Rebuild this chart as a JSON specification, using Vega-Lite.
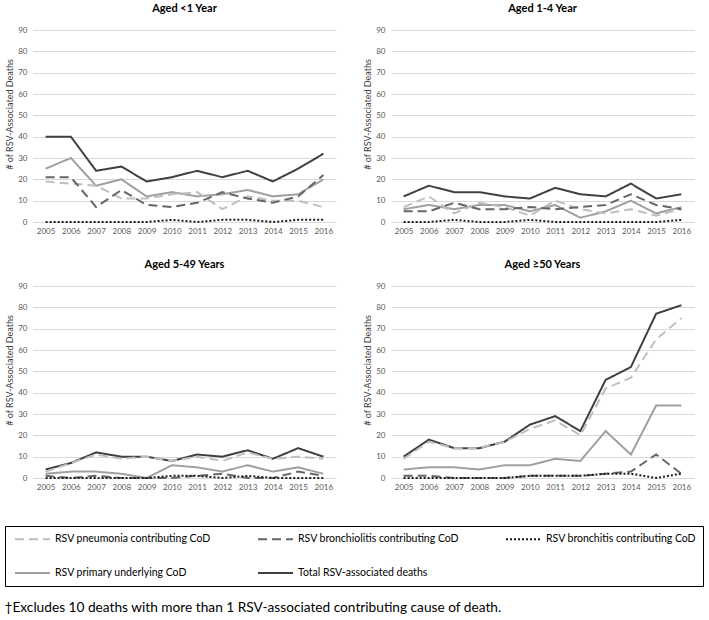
{
  "$schema": "https://vega.github.io/schema/vega-lite/v6.json",
  "padding": {"left": 4, "top": 3, "right": 3, "bottom": 3},
  "background": "white",
  "config": {
    "font": "Lato",
    "view": {"stroke": null},
    "axis": {"labelFont": "Lato", "titleFont": "Lato"},
    "legend": {"labelFont": "Lato"}
  },
  "title": {"text": "†Excludes 10 deaths with more than 1 RSV-associated contributing cause of death.", "orient": "bottom", "anchor": "start", "fontSize": 13.7, "fontWeight": "normal", "font": "Lato", "color": "#000", "offset": 14},
  "data": {"values": [
    {"age":"Aged <1 Year","year":2005,"series":"Total RSV-associated deaths","value":40},
    {"age":"Aged <1 Year","year":2006,"series":"Total RSV-associated deaths","value":40},
    {"age":"Aged <1 Year","year":2007,"series":"Total RSV-associated deaths","value":24},
    {"age":"Aged <1 Year","year":2008,"series":"Total RSV-associated deaths","value":26},
    {"age":"Aged <1 Year","year":2009,"series":"Total RSV-associated deaths","value":19},
    {"age":"Aged <1 Year","year":2010,"series":"Total RSV-associated deaths","value":21},
    {"age":"Aged <1 Year","year":2011,"series":"Total RSV-associated deaths","value":24},
    {"age":"Aged <1 Year","year":2012,"series":"Total RSV-associated deaths","value":21},
    {"age":"Aged <1 Year","year":2013,"series":"Total RSV-associated deaths","value":24},
    {"age":"Aged <1 Year","year":2014,"series":"Total RSV-associated deaths","value":19},
    {"age":"Aged <1 Year","year":2015,"series":"Total RSV-associated deaths","value":25},
    {"age":"Aged <1 Year","year":2016,"series":"Total RSV-associated deaths","value":32},
    {"age":"Aged <1 Year","year":2005,"series":"RSV primary underlying CoD","value":25},
    {"age":"Aged <1 Year","year":2006,"series":"RSV primary underlying CoD","value":30},
    {"age":"Aged <1 Year","year":2007,"series":"RSV primary underlying CoD","value":17},
    {"age":"Aged <1 Year","year":2008,"series":"RSV primary underlying CoD","value":20},
    {"age":"Aged <1 Year","year":2009,"series":"RSV primary underlying CoD","value":12},
    {"age":"Aged <1 Year","year":2010,"series":"RSV primary underlying CoD","value":14},
    {"age":"Aged <1 Year","year":2011,"series":"RSV primary underlying CoD","value":12},
    {"age":"Aged <1 Year","year":2012,"series":"RSV primary underlying CoD","value":13},
    {"age":"Aged <1 Year","year":2013,"series":"RSV primary underlying CoD","value":15},
    {"age":"Aged <1 Year","year":2014,"series":"RSV primary underlying CoD","value":12},
    {"age":"Aged <1 Year","year":2015,"series":"RSV primary underlying CoD","value":13},
    {"age":"Aged <1 Year","year":2016,"series":"RSV primary underlying CoD","value":20},
    {"age":"Aged <1 Year","year":2005,"series":"RSV pneumonia contributing CoD","value":19},
    {"age":"Aged <1 Year","year":2006,"series":"RSV pneumonia contributing CoD","value":18},
    {"age":"Aged <1 Year","year":2007,"series":"RSV pneumonia contributing CoD","value":17},
    {"age":"Aged <1 Year","year":2008,"series":"RSV pneumonia contributing CoD","value":11},
    {"age":"Aged <1 Year","year":2009,"series":"RSV pneumonia contributing CoD","value":11},
    {"age":"Aged <1 Year","year":2010,"series":"RSV pneumonia contributing CoD","value":13},
    {"age":"Aged <1 Year","year":2011,"series":"RSV pneumonia contributing CoD","value":14},
    {"age":"Aged <1 Year","year":2012,"series":"RSV pneumonia contributing CoD","value":6},
    {"age":"Aged <1 Year","year":2013,"series":"RSV pneumonia contributing CoD","value":12},
    {"age":"Aged <1 Year","year":2014,"series":"RSV pneumonia contributing CoD","value":10},
    {"age":"Aged <1 Year","year":2015,"series":"RSV pneumonia contributing CoD","value":10},
    {"age":"Aged <1 Year","year":2016,"series":"RSV pneumonia contributing CoD","value":7},
    {"age":"Aged <1 Year","year":2005,"series":"RSV bronchiolitis contributing CoD","value":21},
    {"age":"Aged <1 Year","year":2006,"series":"RSV bronchiolitis contributing CoD","value":21},
    {"age":"Aged <1 Year","year":2007,"series":"RSV bronchiolitis contributing CoD","value":7},
    {"age":"Aged <1 Year","year":2008,"series":"RSV bronchiolitis contributing CoD","value":15},
    {"age":"Aged <1 Year","year":2009,"series":"RSV bronchiolitis contributing CoD","value":8},
    {"age":"Aged <1 Year","year":2010,"series":"RSV bronchiolitis contributing CoD","value":7},
    {"age":"Aged <1 Year","year":2011,"series":"RSV bronchiolitis contributing CoD","value":9},
    {"age":"Aged <1 Year","year":2012,"series":"RSV bronchiolitis contributing CoD","value":14},
    {"age":"Aged <1 Year","year":2013,"series":"RSV bronchiolitis contributing CoD","value":11},
    {"age":"Aged <1 Year","year":2014,"series":"RSV bronchiolitis contributing CoD","value":9},
    {"age":"Aged <1 Year","year":2015,"series":"RSV bronchiolitis contributing CoD","value":12},
    {"age":"Aged <1 Year","year":2016,"series":"RSV bronchiolitis contributing CoD","value":22},
    {"age":"Aged <1 Year","year":2005,"series":"RSV bronchitis contributing CoD","value":0},
    {"age":"Aged <1 Year","year":2006,"series":"RSV bronchitis contributing CoD","value":0},
    {"age":"Aged <1 Year","year":2007,"series":"RSV bronchitis contributing CoD","value":0},
    {"age":"Aged <1 Year","year":2008,"series":"RSV bronchitis contributing CoD","value":0},
    {"age":"Aged <1 Year","year":2009,"series":"RSV bronchitis contributing CoD","value":0},
    {"age":"Aged <1 Year","year":2010,"series":"RSV bronchitis contributing CoD","value":1},
    {"age":"Aged <1 Year","year":2011,"series":"RSV bronchitis contributing CoD","value":0},
    {"age":"Aged <1 Year","year":2012,"series":"RSV bronchitis contributing CoD","value":1},
    {"age":"Aged <1 Year","year":2013,"series":"RSV bronchitis contributing CoD","value":1},
    {"age":"Aged <1 Year","year":2014,"series":"RSV bronchitis contributing CoD","value":0},
    {"age":"Aged <1 Year","year":2015,"series":"RSV bronchitis contributing CoD","value":1},
    {"age":"Aged <1 Year","year":2016,"series":"RSV bronchitis contributing CoD","value":1},

    {"age":"Aged 1-4 Year","year":2005,"series":"Total RSV-associated deaths","value":12},
    {"age":"Aged 1-4 Year","year":2006,"series":"Total RSV-associated deaths","value":17},
    {"age":"Aged 1-4 Year","year":2007,"series":"Total RSV-associated deaths","value":14},
    {"age":"Aged 1-4 Year","year":2008,"series":"Total RSV-associated deaths","value":14},
    {"age":"Aged 1-4 Year","year":2009,"series":"Total RSV-associated deaths","value":12},
    {"age":"Aged 1-4 Year","year":2010,"series":"Total RSV-associated deaths","value":11},
    {"age":"Aged 1-4 Year","year":2011,"series":"Total RSV-associated deaths","value":16},
    {"age":"Aged 1-4 Year","year":2012,"series":"Total RSV-associated deaths","value":13},
    {"age":"Aged 1-4 Year","year":2013,"series":"Total RSV-associated deaths","value":12},
    {"age":"Aged 1-4 Year","year":2014,"series":"Total RSV-associated deaths","value":18},
    {"age":"Aged 1-4 Year","year":2015,"series":"Total RSV-associated deaths","value":11},
    {"age":"Aged 1-4 Year","year":2016,"series":"Total RSV-associated deaths","value":13},
    {"age":"Aged 1-4 Year","year":2005,"series":"RSV primary underlying CoD","value":6},
    {"age":"Aged 1-4 Year","year":2006,"series":"RSV primary underlying CoD","value":8},
    {"age":"Aged 1-4 Year","year":2007,"series":"RSV primary underlying CoD","value":6},
    {"age":"Aged 1-4 Year","year":2008,"series":"RSV primary underlying CoD","value":8},
    {"age":"Aged 1-4 Year","year":2009,"series":"RSV primary underlying CoD","value":8},
    {"age":"Aged 1-4 Year","year":2010,"series":"RSV primary underlying CoD","value":5},
    {"age":"Aged 1-4 Year","year":2011,"series":"RSV primary underlying CoD","value":8},
    {"age":"Aged 1-4 Year","year":2012,"series":"RSV primary underlying CoD","value":2},
    {"age":"Aged 1-4 Year","year":2013,"series":"RSV primary underlying CoD","value":5},
    {"age":"Aged 1-4 Year","year":2014,"series":"RSV primary underlying CoD","value":10},
    {"age":"Aged 1-4 Year","year":2015,"series":"RSV primary underlying CoD","value":4},
    {"age":"Aged 1-4 Year","year":2016,"series":"RSV primary underlying CoD","value":7},
    {"age":"Aged 1-4 Year","year":2005,"series":"RSV pneumonia contributing CoD","value":7},
    {"age":"Aged 1-4 Year","year":2006,"series":"RSV pneumonia contributing CoD","value":12},
    {"age":"Aged 1-4 Year","year":2007,"series":"RSV pneumonia contributing CoD","value":4},
    {"age":"Aged 1-4 Year","year":2008,"series":"RSV pneumonia contributing CoD","value":9},
    {"age":"Aged 1-4 Year","year":2009,"series":"RSV pneumonia contributing CoD","value":7},
    {"age":"Aged 1-4 Year","year":2010,"series":"RSV pneumonia contributing CoD","value":3},
    {"age":"Aged 1-4 Year","year":2011,"series":"RSV pneumonia contributing CoD","value":10},
    {"age":"Aged 1-4 Year","year":2012,"series":"RSV pneumonia contributing CoD","value":6},
    {"age":"Aged 1-4 Year","year":2013,"series":"RSV pneumonia contributing CoD","value":4},
    {"age":"Aged 1-4 Year","year":2014,"series":"RSV pneumonia contributing CoD","value":6},
    {"age":"Aged 1-4 Year","year":2015,"series":"RSV pneumonia contributing CoD","value":3},
    {"age":"Aged 1-4 Year","year":2016,"series":"RSV pneumonia contributing CoD","value":6},
    {"age":"Aged 1-4 Year","year":2005,"series":"RSV bronchiolitis contributing CoD","value":5},
    {"age":"Aged 1-4 Year","year":2006,"series":"RSV bronchiolitis contributing CoD","value":5},
    {"age":"Aged 1-4 Year","year":2007,"series":"RSV bronchiolitis contributing CoD","value":9},
    {"age":"Aged 1-4 Year","year":2008,"series":"RSV bronchiolitis contributing CoD","value":6},
    {"age":"Aged 1-4 Year","year":2009,"series":"RSV bronchiolitis contributing CoD","value":6},
    {"age":"Aged 1-4 Year","year":2010,"series":"RSV bronchiolitis contributing CoD","value":7},
    {"age":"Aged 1-4 Year","year":2011,"series":"RSV bronchiolitis contributing CoD","value":6},
    {"age":"Aged 1-4 Year","year":2012,"series":"RSV bronchiolitis contributing CoD","value":7},
    {"age":"Aged 1-4 Year","year":2013,"series":"RSV bronchiolitis contributing CoD","value":8},
    {"age":"Aged 1-4 Year","year":2014,"series":"RSV bronchiolitis contributing CoD","value":13},
    {"age":"Aged 1-4 Year","year":2015,"series":"RSV bronchiolitis contributing CoD","value":8},
    {"age":"Aged 1-4 Year","year":2016,"series":"RSV bronchiolitis contributing CoD","value":6},
    {"age":"Aged 1-4 Year","year":2005,"series":"RSV bronchitis contributing CoD","value":0},
    {"age":"Aged 1-4 Year","year":2006,"series":"RSV bronchitis contributing CoD","value":0},
    {"age":"Aged 1-4 Year","year":2007,"series":"RSV bronchitis contributing CoD","value":1},
    {"age":"Aged 1-4 Year","year":2008,"series":"RSV bronchitis contributing CoD","value":0},
    {"age":"Aged 1-4 Year","year":2009,"series":"RSV bronchitis contributing CoD","value":0},
    {"age":"Aged 1-4 Year","year":2010,"series":"RSV bronchitis contributing CoD","value":1},
    {"age":"Aged 1-4 Year","year":2011,"series":"RSV bronchitis contributing CoD","value":0},
    {"age":"Aged 1-4 Year","year":2012,"series":"RSV bronchitis contributing CoD","value":0},
    {"age":"Aged 1-4 Year","year":2013,"series":"RSV bronchitis contributing CoD","value":0},
    {"age":"Aged 1-4 Year","year":2014,"series":"RSV bronchitis contributing CoD","value":0},
    {"age":"Aged 1-4 Year","year":2015,"series":"RSV bronchitis contributing CoD","value":0},
    {"age":"Aged 1-4 Year","year":2016,"series":"RSV bronchitis contributing CoD","value":1},

    {"age":"Aged 5-49 Years","year":2005,"series":"Total RSV-associated deaths","value":4},
    {"age":"Aged 5-49 Years","year":2006,"series":"Total RSV-associated deaths","value":7},
    {"age":"Aged 5-49 Years","year":2007,"series":"Total RSV-associated deaths","value":12},
    {"age":"Aged 5-49 Years","year":2008,"series":"Total RSV-associated deaths","value":10},
    {"age":"Aged 5-49 Years","year":2009,"series":"Total RSV-associated deaths","value":10},
    {"age":"Aged 5-49 Years","year":2010,"series":"Total RSV-associated deaths","value":8},
    {"age":"Aged 5-49 Years","year":2011,"series":"Total RSV-associated deaths","value":11},
    {"age":"Aged 5-49 Years","year":2012,"series":"Total RSV-associated deaths","value":10},
    {"age":"Aged 5-49 Years","year":2013,"series":"Total RSV-associated deaths","value":13},
    {"age":"Aged 5-49 Years","year":2014,"series":"Total RSV-associated deaths","value":9},
    {"age":"Aged 5-49 Years","year":2015,"series":"Total RSV-associated deaths","value":14},
    {"age":"Aged 5-49 Years","year":2016,"series":"Total RSV-associated deaths","value":10},
    {"age":"Aged 5-49 Years","year":2005,"series":"RSV primary underlying CoD","value":2},
    {"age":"Aged 5-49 Years","year":2006,"series":"RSV primary underlying CoD","value":3},
    {"age":"Aged 5-49 Years","year":2007,"series":"RSV primary underlying CoD","value":3},
    {"age":"Aged 5-49 Years","year":2008,"series":"RSV primary underlying CoD","value":2},
    {"age":"Aged 5-49 Years","year":2009,"series":"RSV primary underlying CoD","value":0},
    {"age":"Aged 5-49 Years","year":2010,"series":"RSV primary underlying CoD","value":6},
    {"age":"Aged 5-49 Years","year":2011,"series":"RSV primary underlying CoD","value":5},
    {"age":"Aged 5-49 Years","year":2012,"series":"RSV primary underlying CoD","value":3},
    {"age":"Aged 5-49 Years","year":2013,"series":"RSV primary underlying CoD","value":6},
    {"age":"Aged 5-49 Years","year":2014,"series":"RSV primary underlying CoD","value":3},
    {"age":"Aged 5-49 Years","year":2015,"series":"RSV primary underlying CoD","value":5},
    {"age":"Aged 5-49 Years","year":2016,"series":"RSV primary underlying CoD","value":2},
    {"age":"Aged 5-49 Years","year":2005,"series":"RSV pneumonia contributing CoD","value":3},
    {"age":"Aged 5-49 Years","year":2006,"series":"RSV pneumonia contributing CoD","value":7},
    {"age":"Aged 5-49 Years","year":2007,"series":"RSV pneumonia contributing CoD","value":11},
    {"age":"Aged 5-49 Years","year":2008,"series":"RSV pneumonia contributing CoD","value":9},
    {"age":"Aged 5-49 Years","year":2009,"series":"RSV pneumonia contributing CoD","value":10},
    {"age":"Aged 5-49 Years","year":2010,"series":"RSV pneumonia contributing CoD","value":8},
    {"age":"Aged 5-49 Years","year":2011,"series":"RSV pneumonia contributing CoD","value":10},
    {"age":"Aged 5-49 Years","year":2012,"series":"RSV pneumonia contributing CoD","value":8},
    {"age":"Aged 5-49 Years","year":2013,"series":"RSV pneumonia contributing CoD","value":12},
    {"age":"Aged 5-49 Years","year":2014,"series":"RSV pneumonia contributing CoD","value":9},
    {"age":"Aged 5-49 Years","year":2015,"series":"RSV pneumonia contributing CoD","value":10},
    {"age":"Aged 5-49 Years","year":2016,"series":"RSV pneumonia contributing CoD","value":9},
    {"age":"Aged 5-49 Years","year":2005,"series":"RSV bronchiolitis contributing CoD","value":1},
    {"age":"Aged 5-49 Years","year":2006,"series":"RSV bronchiolitis contributing CoD","value":0},
    {"age":"Aged 5-49 Years","year":2007,"series":"RSV bronchiolitis contributing CoD","value":1},
    {"age":"Aged 5-49 Years","year":2008,"series":"RSV bronchiolitis contributing CoD","value":0},
    {"age":"Aged 5-49 Years","year":2009,"series":"RSV bronchiolitis contributing CoD","value":0},
    {"age":"Aged 5-49 Years","year":2010,"series":"RSV bronchiolitis contributing CoD","value":0},
    {"age":"Aged 5-49 Years","year":2011,"series":"RSV bronchiolitis contributing CoD","value":1},
    {"age":"Aged 5-49 Years","year":2012,"series":"RSV bronchiolitis contributing CoD","value":2},
    {"age":"Aged 5-49 Years","year":2013,"series":"RSV bronchiolitis contributing CoD","value":0},
    {"age":"Aged 5-49 Years","year":2014,"series":"RSV bronchiolitis contributing CoD","value":0},
    {"age":"Aged 5-49 Years","year":2015,"series":"RSV bronchiolitis contributing CoD","value":3},
    {"age":"Aged 5-49 Years","year":2016,"series":"RSV bronchiolitis contributing CoD","value":1},
    {"age":"Aged 5-49 Years","year":2005,"series":"RSV bronchitis contributing CoD","value":0},
    {"age":"Aged 5-49 Years","year":2006,"series":"RSV bronchitis contributing CoD","value":0},
    {"age":"Aged 5-49 Years","year":2007,"series":"RSV bronchitis contributing CoD","value":0},
    {"age":"Aged 5-49 Years","year":2008,"series":"RSV bronchitis contributing CoD","value":0},
    {"age":"Aged 5-49 Years","year":2009,"series":"RSV bronchitis contributing CoD","value":0},
    {"age":"Aged 5-49 Years","year":2010,"series":"RSV bronchitis contributing CoD","value":1},
    {"age":"Aged 5-49 Years","year":2011,"series":"RSV bronchitis contributing CoD","value":1},
    {"age":"Aged 5-49 Years","year":2012,"series":"RSV bronchitis contributing CoD","value":0},
    {"age":"Aged 5-49 Years","year":2013,"series":"RSV bronchitis contributing CoD","value":1},
    {"age":"Aged 5-49 Years","year":2014,"series":"RSV bronchitis contributing CoD","value":0},
    {"age":"Aged 5-49 Years","year":2015,"series":"RSV bronchitis contributing CoD","value":0},
    {"age":"Aged 5-49 Years","year":2016,"series":"RSV bronchitis contributing CoD","value":0},

    {"age":"Aged ≥50 Years","year":2005,"series":"Total RSV-associated deaths","value":10},
    {"age":"Aged ≥50 Years","year":2006,"series":"Total RSV-associated deaths","value":18},
    {"age":"Aged ≥50 Years","year":2007,"series":"Total RSV-associated deaths","value":14},
    {"age":"Aged ≥50 Years","year":2008,"series":"Total RSV-associated deaths","value":14},
    {"age":"Aged ≥50 Years","year":2009,"series":"Total RSV-associated deaths","value":17},
    {"age":"Aged ≥50 Years","year":2010,"series":"Total RSV-associated deaths","value":25},
    {"age":"Aged ≥50 Years","year":2011,"series":"Total RSV-associated deaths","value":29},
    {"age":"Aged ≥50 Years","year":2012,"series":"Total RSV-associated deaths","value":22},
    {"age":"Aged ≥50 Years","year":2013,"series":"Total RSV-associated deaths","value":46},
    {"age":"Aged ≥50 Years","year":2014,"series":"Total RSV-associated deaths","value":52},
    {"age":"Aged ≥50 Years","year":2015,"series":"Total RSV-associated deaths","value":77},
    {"age":"Aged ≥50 Years","year":2016,"series":"Total RSV-associated deaths","value":81},
    {"age":"Aged ≥50 Years","year":2005,"series":"RSV primary underlying CoD","value":4},
    {"age":"Aged ≥50 Years","year":2006,"series":"RSV primary underlying CoD","value":5},
    {"age":"Aged ≥50 Years","year":2007,"series":"RSV primary underlying CoD","value":5},
    {"age":"Aged ≥50 Years","year":2008,"series":"RSV primary underlying CoD","value":4},
    {"age":"Aged ≥50 Years","year":2009,"series":"RSV primary underlying CoD","value":6},
    {"age":"Aged ≥50 Years","year":2010,"series":"RSV primary underlying CoD","value":6},
    {"age":"Aged ≥50 Years","year":2011,"series":"RSV primary underlying CoD","value":9},
    {"age":"Aged ≥50 Years","year":2012,"series":"RSV primary underlying CoD","value":8},
    {"age":"Aged ≥50 Years","year":2013,"series":"RSV primary underlying CoD","value":22},
    {"age":"Aged ≥50 Years","year":2014,"series":"RSV primary underlying CoD","value":11},
    {"age":"Aged ≥50 Years","year":2015,"series":"RSV primary underlying CoD","value":34},
    {"age":"Aged ≥50 Years","year":2016,"series":"RSV primary underlying CoD","value":34},
    {"age":"Aged ≥50 Years","year":2005,"series":"RSV pneumonia contributing CoD","value":9},
    {"age":"Aged ≥50 Years","year":2006,"series":"RSV pneumonia contributing CoD","value":17},
    {"age":"Aged ≥50 Years","year":2007,"series":"RSV pneumonia contributing CoD","value":14},
    {"age":"Aged ≥50 Years","year":2008,"series":"RSV pneumonia contributing CoD","value":14},
    {"age":"Aged ≥50 Years","year":2009,"series":"RSV pneumonia contributing CoD","value":17},
    {"age":"Aged ≥50 Years","year":2010,"series":"RSV pneumonia contributing CoD","value":23},
    {"age":"Aged ≥50 Years","year":2011,"series":"RSV pneumonia contributing CoD","value":27},
    {"age":"Aged ≥50 Years","year":2012,"series":"RSV pneumonia contributing CoD","value":20},
    {"age":"Aged ≥50 Years","year":2013,"series":"RSV pneumonia contributing CoD","value":42},
    {"age":"Aged ≥50 Years","year":2014,"series":"RSV pneumonia contributing CoD","value":47},
    {"age":"Aged ≥50 Years","year":2015,"series":"RSV pneumonia contributing CoD","value":65},
    {"age":"Aged ≥50 Years","year":2016,"series":"RSV pneumonia contributing CoD","value":75},
    {"age":"Aged ≥50 Years","year":2005,"series":"RSV bronchiolitis contributing CoD","value":1},
    {"age":"Aged ≥50 Years","year":2006,"series":"RSV bronchiolitis contributing CoD","value":1},
    {"age":"Aged ≥50 Years","year":2007,"series":"RSV bronchiolitis contributing CoD","value":0},
    {"age":"Aged ≥50 Years","year":2008,"series":"RSV bronchiolitis contributing CoD","value":0},
    {"age":"Aged ≥50 Years","year":2009,"series":"RSV bronchiolitis contributing CoD","value":0},
    {"age":"Aged ≥50 Years","year":2010,"series":"RSV bronchiolitis contributing CoD","value":1},
    {"age":"Aged ≥50 Years","year":2011,"series":"RSV bronchiolitis contributing CoD","value":1},
    {"age":"Aged ≥50 Years","year":2012,"series":"RSV bronchiolitis contributing CoD","value":1},
    {"age":"Aged ≥50 Years","year":2013,"series":"RSV bronchiolitis contributing CoD","value":2},
    {"age":"Aged ≥50 Years","year":2014,"series":"RSV bronchiolitis contributing CoD","value":3},
    {"age":"Aged ≥50 Years","year":2015,"series":"RSV bronchiolitis contributing CoD","value":11},
    {"age":"Aged ≥50 Years","year":2016,"series":"RSV bronchiolitis contributing CoD","value":2},
    {"age":"Aged ≥50 Years","year":2005,"series":"RSV bronchitis contributing CoD","value":0},
    {"age":"Aged ≥50 Years","year":2006,"series":"RSV bronchitis contributing CoD","value":0},
    {"age":"Aged ≥50 Years","year":2007,"series":"RSV bronchitis contributing CoD","value":0},
    {"age":"Aged ≥50 Years","year":2008,"series":"RSV bronchitis contributing CoD","value":0},
    {"age":"Aged ≥50 Years","year":2009,"series":"RSV bronchitis contributing CoD","value":0},
    {"age":"Aged ≥50 Years","year":2010,"series":"RSV bronchitis contributing CoD","value":1},
    {"age":"Aged ≥50 Years","year":2011,"series":"RSV bronchitis contributing CoD","value":1},
    {"age":"Aged ≥50 Years","year":2012,"series":"RSV bronchitis contributing CoD","value":1},
    {"age":"Aged ≥50 Years","year":2013,"series":"RSV bronchitis contributing CoD","value":2},
    {"age":"Aged ≥50 Years","year":2014,"series":"RSV bronchitis contributing CoD","value":2},
    {"age":"Aged ≥50 Years","year":2015,"series":"RSV bronchitis contributing CoD","value":0},
    {"age":"Aged ≥50 Years","year":2016,"series":"RSV bronchitis contributing CoD","value":2}
  ]},
  "facet": {
    "field": "age",
    "type": "nominal",
    "sort": ["Aged <1 Year", "Aged 1-4 Year", "Aged 5-49 Years", "Aged ≥50 Years"],
    "header": {"title": null, "labelFontSize": 11, "labelFontWeight": "bold", "labelColor": "#000", "labelPadding": 12, "labelFont": "Lato"}
  },
  "columns": 2,
  "spacing": {"row": 24, "column": 27},
  "resolve": {"axis": {"x": "independent", "y": "independent"}},
  "spec": {
    "width": 303,
    "height": 192,
    "mark": {"type": "line", "strokeWidth": 2},
    "encoding": {
      "x": {
        "field": "year", "type": "ordinal",
        "scale": {"type": "point", "padding": 0.5},
        "axis": {"title": null, "labelAngle": 0, "labelFontSize": 8, "labelColor": "#595959", "ticks": false, "domainColor": "#d9d9d9", "labelPadding": 5}
      },
      "y": {
        "field": "value", "type": "quantitative",
        "scale": {"domain": [0, 90], "nice": false},
        "axis": {"title": "# of RSV-Associated Deaths", "values": [0,10,20,30,40,50,60,70,80,90], "labelFontSize": 8, "labelColor": "#595959", "titleFontSize": 9, "titleFontWeight": "normal", "titleColor": "#404040", "ticks": false, "domain": false, "gridColor": "#d9d9d9", "labelPadding": 6, "titlePadding": 3, "titleY": 84}
      },
      "color": {
        "field": "series", "type": "nominal",
        "scale": {
          "domain": ["RSV pneumonia contributing CoD", "RSV bronchiolitis contributing CoD", "RSV bronchitis contributing CoD", "RSV primary underlying CoD", "Total RSV-associated deaths"],
          "range": ["#bfbfbf", "#666666", "#1a1a1a", "#a0a0a0", "#404040"]
        },
        "legend": {
          "title": null, "orient": "none", "legendX": -28, "legendY": 496, "columns": 3, "direction": "horizontal",
          "gridAlign": "each", "columnPadding": 43, "rowPadding": 22,
          "symbolType": "M-0.6,0H6.4", "symbolSize": 100, "symbolStrokeWidth": 2,
          "labelFontSize": 10.5, "labelColor": "#000", "labelOffset": 31, "labelLimit": 300,
          "strokeColor": "#000", "padding": 7
        }
      },
      "strokeDash": {
        "field": "series", "type": "nominal",
        "scale": {
          "domain": ["RSV pneumonia contributing CoD", "RSV bronchiolitis contributing CoD", "RSV bronchitis contributing CoD", "RSV primary underlying CoD", "Total RSV-associated deaths"],
          "range": [[9, 5], [9, 5], [2, 2], [1, 0], [1, 0]]
        }
      }
    }
  }
}
